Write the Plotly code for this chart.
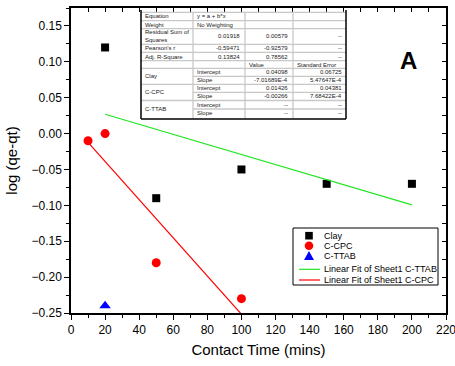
import plotly.graph_objects as go

# ---------------- data ----------------
clay_x = [20, 50, 100, 150, 200]
clay_y = [0.12, -0.09, -0.05, -0.07, -0.07]
cpc_x = [10, 20, 50, 100]
cpc_y = [-0.01, 0.0, -0.18, -0.23]
ttab_x = [20]
ttab_y = [-0.24]

clay_fit_ab = [0.04098, -7.01689e-4]   # intercept, slope
cpc_fit_ab = [0.01426, -0.00266]
clay_fit_x = [20, 200]
cpc_fit_x = [10, 100]

x_ticks = list(range(0, 221, 20))
y_ticks = [-0.25, -0.20, -0.15, -0.10, -0.05, 0.00, 0.05, 0.10, 0.15]

legend_names = ["Clay", "C-CPC", "C-TTAB",
                "Linear Fit of Sheet1 C-TTAB", "Linear Fit of Sheet1 C-CPC"]

table_stats = [
    ["Equation", "y = a + b*x", "", ""],
    ["Weight", "No Weighting", "", ""],
    ["Residual Sum of<br>Squares", "0.01918", "0.00579", "--"],
    ["Pearson's r", "-0.59471", "-0.92579", "--"],
    ["Adj. R-Square", "0.13824", "0.78562", "--"],
]
table_header = ["Value", "Standard Error"]
table_params = [
    ["Clay", "Intercept", "0.04098", "0.06725"],
    ["", "Slope", "-7.01689E-4", "5.47647E-4"],
    ["C-CPC", "Intercept", "0.01426", "0.04381"],
    ["", "Slope", "-0.00266", "7.68422E-4"],
    ["C-TTAB", "Intercept", "--", "--"],
    ["", "Slope", "--", "--"],
]

FONT = "Liberation Sans, Arial, sans-serif"
GREEN = "#22e622"
RED = "#ff0000"
BLUE = "#0000ff"

# ---------------- geometry helpers (pixel -> paper) ----------------
W, H = 455, 366
L, R, T, B = 71, 446, 8, 313


def px(x):
    return (x - L) / (R - L)


def py(y):
    return (B - y) / (B - T)


fig = go.Figure()

fig.add_trace(go.Scatter(x=clay_x, y=clay_y, mode="markers", name=legend_names[0],
                         marker=dict(symbol="square", size=8, color="black"),
                         showlegend=False))
fig.add_trace(go.Scatter(x=cpc_x, y=cpc_y, mode="markers", name=legend_names[1],
                         marker=dict(symbol="circle", size=9, color=RED),
                         showlegend=False))
fig.add_trace(go.Scatter(x=ttab_x, y=ttab_y, mode="markers", name=legend_names[2],
                         marker=dict(symbol="triangle-up", size=10, color=BLUE),
                         showlegend=False))
fig.add_trace(go.Scatter(x=clay_fit_x,
                         y=[clay_fit_ab[0] + clay_fit_ab[1] * v for v in clay_fit_x],
                         mode="lines", name=legend_names[3],
                         line=dict(color=GREEN, width=1.2), showlegend=False))
fig.add_trace(go.Scatter(x=cpc_fit_x,
                         y=[cpc_fit_ab[0] + cpc_fit_ab[1] * v for v in cpc_fit_x],
                         mode="lines", name=legend_names[4],
                         line=dict(color=RED, width=1.2), showlegend=False))
# empty trace to hold the mirrored (top/right) tick axes
fig.add_trace(go.Scatter(x=[], y=[], xaxis="x2", yaxis="y2", showlegend=False,
                         hoverinfo="skip"))

shapes = []
annotations = []

# ---------------- inset table ----------------
cx = [141, 193, 245, 293, 346]
grid = "#c8c8c8"
shapes.append(dict(type="rect", xref="paper", yref="paper",
                   x0=px(cx[0]), x1=px(cx[4]), y0=py(119), y1=py(10),
                   fillcolor="white", line=dict(width=0), layer="below"))
hlines_full = [12.3, 20.7, 28.7, 44.3, 52.3, 60.7, 68.3, 84.3, 100.5]
hlines_sub = [76.3, 92.4, 109]
for yy in hlines_full:
    shapes.append(dict(type="line", xref="paper", yref="paper",
                       x0=px(cx[0]), x1=px(cx[4]), y0=py(yy), y1=py(yy),
                       line=dict(color=grid, width=1.3)))
for yy in hlines_sub:
    shapes.append(dict(type="line", xref="paper", yref="paper",
                       x0=px(cx[1]), x1=px(cx[4]), y0=py(yy), y1=py(yy),
                       line=dict(color=grid, width=1.3)))
for xx in cx[1:4]:
    shapes.append(dict(type="line", xref="paper", yref="paper",
                       x0=px(xx), x1=px(xx), y0=py(12.3), y1=py(119),
                       line=dict(color=grid, width=1.3)))
# black frame left / bottom / right
for (x0, y0, x1, y1) in [(cx[0], 10, cx[0], 119), (cx[0], 119, cx[4], 119),
                         (cx[4], 10, cx[4], 119)]:
    shapes.append(dict(type="line", xref="paper", yref="paper",
                       x0=px(x0), x1=px(x1), y0=py(y0), y1=py(y1),
                       line=dict(color="black", width=1.5)))

TF = dict(family=FONT, size=6, color="#222222")


def cell(text, x, y, anchor):
    if not text:
        return
    annotations.append(dict(text=text, xref="paper", yref="paper",
                            x=px(x), y=py(y), xanchor=anchor, yanchor="middle",
                            showarrow=False, font=TF, align="left"))


stat_y = [16.5, 24.7, 36.5, 48.3, 56.5]
for row, yy in zip(table_stats, stat_y):
    cell(row[0], cx[0] + 2, yy, "left")
    if row[2] == "":
        cell(row[1], cx[1] + 2, yy, "left")
    else:
        cell(row[1], cx[2] - 3, yy, "right")
        cell(row[2], cx[3] - 3, yy, "right")
        cell(row[3], cx[4] - 2, yy, "right")
cell(table_header[0], cx[2] + 2, 64.5, "left")
cell(table_header[1], cx[3] + 2, 64.5, "left")
param_y = [72.3, 80.3, 88.3, 96.4, 104.7, 113]
group_y = [76.3, 92.4, 109]
for i, (row, yy) in enumerate(zip(table_params, param_y)):
    if row[0]:
        cell(row[0], cx[0] + 2, group_y[i // 2], "left")
    cell(row[1], cx[1] + 2, yy, "left")
    cell(row[2], cx[3] - 3, yy, "right")
    cell(row[3], cx[4] - 2, yy, "right")

# ---------------- manual legend ----------------
shapes.append(dict(type="rect", xref="paper", yref="paper",
                   x0=px(293), x1=px(438), y0=py(285), y1=py(228),
                   fillcolor="white", line=dict(color="black", width=1)))
leg_y = [235.7, 245.7, 255.7, 269.3, 280]
sx = 309
s = 3.8
shapes.append(dict(type="rect", xref="paper", yref="paper",
                   x0=px(sx - s), x1=px(sx + s), y0=py(leg_y[0] + s), y1=py(leg_y[0] - s),
                   fillcolor="black", line=dict(width=0)))
shapes.append(dict(type="circle", xref="paper", yref="paper",
                   x0=px(sx - 4.3), x1=px(sx + 4.3), y0=py(leg_y[1] + 4.3), y1=py(leg_y[1] - 4.3),
                   fillcolor=RED, line=dict(width=0)))
ty = leg_y[2]
shapes.append(dict(type="path", xref="paper", yref="paper",
                   path=f"M {px(sx - 5)} {py(ty + 4.3)} L {px(sx + 5)} {py(ty + 4.3)} L {px(sx)} {py(ty - 4.7)} Z",
                   fillcolor=BLUE, line=dict(width=0)))
for yy, col in [(leg_y[3], GREEN), (leg_y[4], RED)]:
    shapes.append(dict(type="line", xref="paper", yref="paper",
                       x0=px(299), x1=px(320), y0=py(yy), y1=py(yy),
                       line=dict(color=col, width=1.2)))
for name, yy in zip(legend_names, leg_y):
    annotations.append(dict(text=name, xref="paper", yref="paper",
                            x=px(321.5), y=py(yy), xanchor="left", yanchor="middle",
                            showarrow=False, font=dict(family=FONT, size=9, color="black")))

# panel letter
annotations.append(dict(text="<b>A</b>", xref="paper", yref="paper",
                        x=px(408), y=py(60), xanchor="center", yanchor="middle",
                        showarrow=False, font=dict(family=FONT, size=24, color="black")))

fig.update_layout(
    width=W, height=H, autosize=False,
    margin=dict(l=L, r=W - R, t=T, b=H - B, pad=0, autoexpand=False),
    paper_bgcolor="white", plot_bgcolor="white",
    font=dict(family=FONT, size=12, color="black"),
    showlegend=False,
    shapes=shapes, annotations=annotations,
    xaxis=dict(range=[0, 220], tickvals=x_ticks, ticks="outside", ticklen=5,
               tickwidth=1, tickcolor="black", showline=True, linecolor="black",
               linewidth=1.5, mirror=True, showgrid=False, zeroline=False,
               tickfont=dict(size=12), ticklabeloverflow="allow", automargin=False,
               minor=dict(dtick=10, ticks="outside", ticklen=3, tickcolor="black"),
               title=dict(text="Contact Time (mins)", font=dict(size=15), standoff=8)),
    yaxis=dict(range=[-0.25, 0.175], tickvals=y_ticks, tickformat=".2f",
               ticks="outside", ticklen=5, tickwidth=1, tickcolor="black",
               showline=True, linecolor="black", linewidth=1.5, mirror=True,
               showgrid=False, zeroline=False, tickfont=dict(size=12), automargin=False,
               minor=dict(dtick=0.025, ticks="outside", ticklen=3, tickcolor="black"),
               title=dict(text="log (qe-qt)", font=dict(size=15), standoff=10)),
    xaxis2=dict(range=[0, 220], overlaying="x", side="top", anchor="y",
                dtick=10, tick0=0, ticks="inside", ticklen=4, tickcolor="black",
                showticklabels=False, showline=False, showgrid=False, zeroline=False),
    yaxis2=dict(range=[-0.25, 0.175], overlaying="y", side="right", anchor="x",
                dtick=0.025, tick0=0, ticks="inside", ticklen=4, tickcolor="black",
                showticklabels=False, showline=False, showgrid=False, zeroline=False),
)

fig.write_html("out.html")
